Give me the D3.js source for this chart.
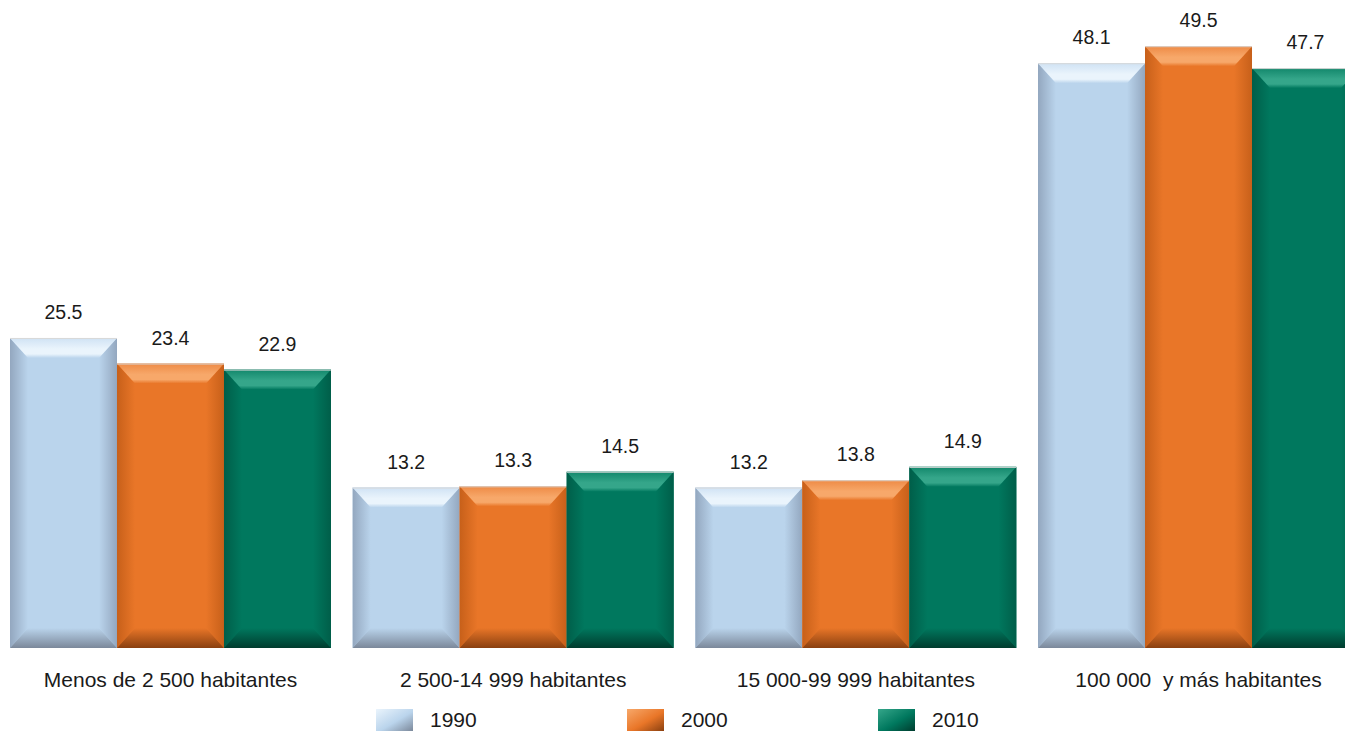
<!DOCTYPE html>
<html><head><meta charset="utf-8">
<script src="https://cdn.jsdelivr.net/npm/d3@7"></script>
<style>html,body{margin:0;padding:0;background:#fff;}svg{display:block;}</style>
</head><body>
<svg id="chart" width="1345" height="731"></svg>
<script>
const categories = ["Menos de 2 500 habitantes","2 500-14 999 habitantes","15 000-99 999 habitantes","100 000  y más habitantes"];
const years = ["1990","2000","2010"];
const v1990 = [25.5, 13.2, 13.2, 48.1];
const v2000 = [23.4, 13.3, 13.8, 49.5];
const v2010 = [22.9, 14.5, 14.9, 47.7];
const seriesValues = [v1990, v2000, v2010];

const palette = {
  "1990": {base:"#BAD4EC", top:"#CFE2F4", light:"#EAF4FC", dark:"#7B889A", side:"#93A7BF"},
  "2000": {base:"#E97628", top:"#EE8A45", light:"#F7A86A", dark:"#8A4010", side:"#C7601A"},
  "2010": {base:"#00785E", top:"#12876B", light:"#35A68A", dark:"#003C2E", side:"#005E49"}
};

const svg = d3.select("#chart");
const defs = svg.append("defs");
const font = "'Liberation Sans', Arial, sans-serif";

const x0 = d3.scaleBand().domain(categories).range([10, 1359]).paddingInner(0.0633).paddingOuter(0);
const x1 = d3.scaleBand().domain(years).range([0, x0.bandwidth()]).padding(0);
const y = d3.scaleLinear().domain([0, 53.3]).range([648, 0]);

years.forEach(yr => {
  const p = palette[yr];
  const t = defs.append("linearGradient").attr("id","top"+yr).attr("x1",0).attr("y1",0).attr("x2",0).attr("y2",1);
  t.append("stop").attr("offset","0%").attr("stop-color",p.top);
  t.append("stop").attr("offset","55%").attr("stop-color",p.light);
  t.append("stop").attr("offset","80%").attr("stop-color",p.light);
  t.append("stop").attr("offset","100%").attr("stop-color",p.base);
  const b = defs.append("linearGradient").attr("id","bot"+yr).attr("x1",0).attr("y1",0).attr("x2",0).attr("y2",1);
  b.append("stop").attr("offset","0%").attr("stop-color",p.base);
  b.append("stop").attr("offset","100%").attr("stop-color",p.dark);
  const l = defs.append("linearGradient").attr("id","left"+yr).attr("x1",0).attr("y1",0).attr("x2",1).attr("y2",0);
  l.append("stop").attr("offset","0%").attr("stop-color",p.side);
  l.append("stop").attr("offset","100%").attr("stop-color",p.base);
  const r = defs.append("linearGradient").attr("id","right"+yr).attr("x1",0).attr("y1",0).attr("x2",1).attr("y2",0);
  r.append("stop").attr("offset","0%").attr("stop-color",p.base);
  r.append("stop").attr("offset","100%").attr("stop-color",p.side);
  const lg = defs.append("linearGradient").attr("id","leg"+yr).attr("x1",0).attr("y1",0).attr("x2",1).attr("y2",1);
  lg.append("stop").attr("offset","0%").attr("stop-color",p.light);
  lg.append("stop").attr("offset","55%").attr("stop-color",p.base);
  lg.append("stop").attr("offset","100%").attr("stop-color",p.dark);
});

const data = [];
categories.forEach((c, i) => {
  years.forEach((yr, j) => data.push({cat:c, year:yr, value:seriesValues[j][i]}));
});

const pts = a => a.map(p => p.join(",")).join(" ");
const bars = svg.append("g").selectAll("g").data(data).join("g");
bars.each(function(d){
  const g = d3.select(this);
  const x = x0(d.cat) + x1(d.year), w = x1.bandwidth();
  const yt = y(d.value), yb = y(0), h = yb - yt;
  const b = Math.min(20, h/2);
  const sb = 18;
  g.append("rect").attr("x",x).attr("y",yt).attr("width",w).attr("height",h).attr("fill",palette[d.year].base);
  g.append("polygon").attr("points",pts([[x,yt],[x+sb,yt+b],[x+sb,yb-b],[x,yb]])).attr("fill","url(#left"+d.year+")");
  g.append("polygon").attr("points",pts([[x+w,yt],[x+w-sb,yt+b],[x+w-sb,yb-b],[x+w,yb]])).attr("fill","url(#right"+d.year+")");
  g.append("polygon").attr("points",pts([[x,yt],[x+w,yt],[x+w-sb,yt+b],[x+sb,yt+b]])).attr("fill","url(#top"+d.year+")");
  g.append("polygon").attr("points",pts([[x,yb],[x+w,yb],[x+w-sb,yb-b],[x+sb,yb-b]])).attr("fill","url(#bot"+d.year+")");
  g.append("line").attr("x1",x).attr("x2",x+w).attr("y1",yt+0.5).attr("y2",yt+0.5).attr("stroke","#d8d8d8").attr("stroke-width",1);
  g.append("text").attr("x",x+w/2).attr("y",yt-19).attr("text-anchor","middle")
    .attr("font-family",font).attr("font-size",19.5).attr("fill","#1a1a1a").text(d.value.toFixed(1));
});

const xAxis = d3.axisBottom(x0).tickSize(0).tickPadding(0);
const ax = svg.append("g").attr("transform","translate(0,687)").call(xAxis);
ax.select(".domain").remove();
ax.selectAll("text").attr("font-family",font).attr("font-size",21).attr("fill","#1a1a1a").attr("dy","0").attr("y",0).style("white-space","pre");

const legX = d3.scalePoint().domain(years).range([376, 878]);
const leg = svg.append("g").selectAll("g").data(years).join("g").attr("transform", d => `translate(${legX(d)},709)`);
leg.append("rect").attr("width",37).attr("height",22).attr("fill", d => "url(#leg"+d+")");
leg.append("text").attr("x",54).attr("y",18).attr("font-family",font).attr("font-size",21).attr("fill","#1a1a1a").text(d => d);
</script>
</body></html>
